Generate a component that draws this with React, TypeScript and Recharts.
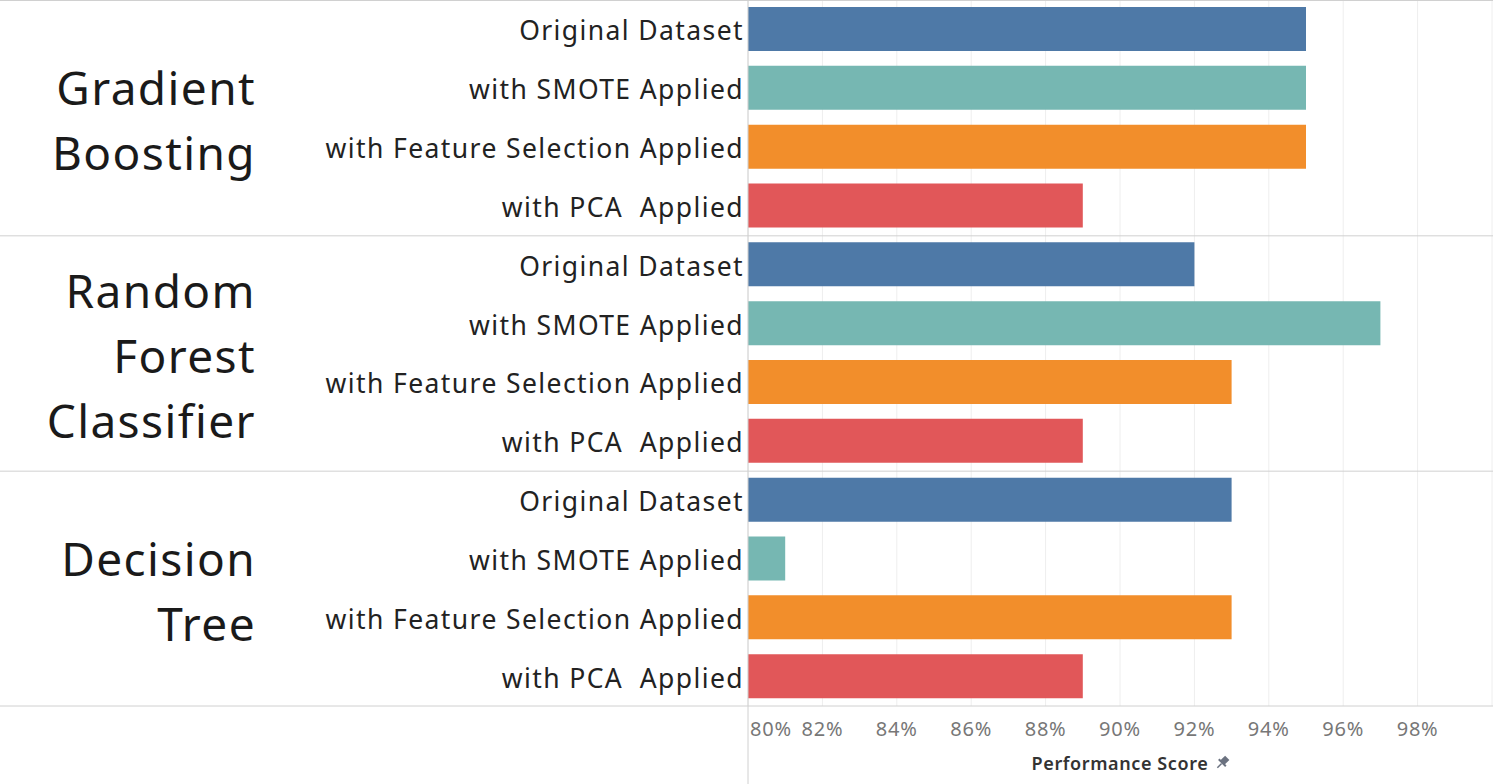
import { BarChart, Bar, XAxis, YAxis, CartesianGrid, Cell } from "recharts";

const variants = [
  "Original Dataset",
  "with SMOTE Applied",
  "with Feature Selection Applied",
  "with PCA  Applied",
];
const models = ["Gradient Boosting", "Random Forest Classifier", "Decision Tree"];
const modelLines = [["Gradient", "Boosting"], ["Random", "Forest", "Classifier"], ["Decision", "Tree"]];

const gradientBoosting = [95, 95, 95, 89];
const randomForest = [92, 97, 93, 89];
const decisionTree = [93, 81, 93, 89];

const xTicks = [80, 82, 84, 86, 88, 90, 92, 94, 96, 98, 100];
const variantColors = ["#4e79a7", "#76b7b2", "#f28e2b", "#e15759"];

const FONT = "'Noto Sans', 'Open Sans', sans-serif";
const W = 1493;
const H = 784;
const AXIS_H = 78;
const LEFT_W = 748;
const BAND = (H - AXIS_H) / 12;

const rows = [gradientBoosting, randomForest, decisionTree].flatMap((vals, g) =>
  vals.map((v, i) => ({
    key: `${models[g]}|${variants[i]}`,
    label: variants[i],
    group: g,
    first: i === 0,
    last: g === 2 && i === 3,
    score: v,
    color: variantColors[i],
  })),
);

function RowTick(props: any) {
  const { y, payload } = props;
  const row = rows.find((r) => r.key === payload.value);
  if (!row) return null;
  const lines = modelLines[row.group];
  const cy = y + BAND * 1.5;
  return (
    <g>
      {row.first && <line x1={0} x2={W} y1={y - BAND / 2 + 0.5} y2={y - BAND / 2 + 0.5} stroke="#d0d0d0" />}
      {row.last && <line x1={0} x2={W} y1={y + BAND / 2} y2={y + BAND / 2} stroke="#d0d0d0" />}
      <text
        x={LEFT_W - 4}
        y={y + 1}
        textAnchor="end"
        dominantBaseline="central"
        fontFamily={FONT}
        fontSize={26.5}
        letterSpacing={1.4}
        fill="#222"
        style={{ whiteSpace: "pre" }}
      >
        {row.label}
      </text>
      {row.first &&
        lines.map((t, k) => (
          <text
            key={t}
            x={256}
            y={cy + 2 + (k - (lines.length - 1) / 2) * 65}
            textAnchor="end"
            dominantBaseline="central"
            fontFamily={FONT}
            fontSize={46}
            letterSpacing={1.4}
            fill="#1a1a1a"
          >
            {t}
          </text>
        ))}
    </g>
  );
}

function PctTick(props: any) {
  const { x, payload } = props;
  const v = payload.value;
  if (v === 100) return null;
  return (
    <g>
      {v === 80 && <line x1={x} x2={x} y1={H - AXIS_H} y2={H} stroke="#d0d0d0" />}
      <text
        x={v === 80 ? x + 2 : x}
        y={728}
        textAnchor={v === 80 ? "start" : "middle"}
        dominantBaseline="central"
        fontFamily={FONT}
        fontSize={20}
        letterSpacing={0.8}
        fill="#777"
      >
        {`${v}%`}
      </text>
    </g>
  );
}

function AxisTitle(props: any) {
  const { viewBox } = props;
  const cx = viewBox.x + viewBox.width / 2;
  return (
    <g>
      <text
        x={cx}
        y={763}
        textAnchor="middle"
        dominantBaseline="central"
        fontFamily={FONT}
        fontSize={18}
        fontWeight={600}
        letterSpacing={0.6}
        fill="#333"
      >
        Performance Score
      </text>
      <g transform={`translate(${cx + 103}, 762) rotate(45)`}>
        <rect x={-3} y={-6} width={6} height={7} fill="#6b7280" />
        <rect x={-5} y={0} width={10} height={2} fill="#6b7280" />
        <line x1={0} x2={0} y1={2} y2={8} stroke="#6b7280" strokeWidth={1.5} />
      </g>
    </g>
  );
}

export default function App() {
  return (
    <div style={{ width: W, height: H, background: "#fff" }}>
      <style>{`body{margin:0}`}</style>
      <BarChart
        width={W}
        height={H}
        data={rows}
        layout="vertical"
        margin={{ top: 0, right: 1, bottom: 0, left: 0 }}
      >
        <CartesianGrid horizontal={false} stroke="#eeeeee" />
        <XAxis
          type="number"
          domain={[80, 100]}
          ticks={xTicks}
          allowDataOverflow
          height={AXIS_H}
          axisLine={false}
          tickLine={false}
          tick={<PctTick />}
          label={<AxisTitle />}
        />
        <YAxis
          type="category"
          dataKey="key"
          width={LEFT_W}
          axisLine={{ stroke: "#d0d0d0" }}
          tickLine={false}
          tick={<RowTick />}
          interval={0}
        />
        <Bar dataKey="score" barSize={44} isAnimationActive={false}>
          {rows.map((r) => (
            <Cell key={r.key} fill={r.color} />
          ))}
        </Bar>
      </BarChart>
    </div>
  );
}
